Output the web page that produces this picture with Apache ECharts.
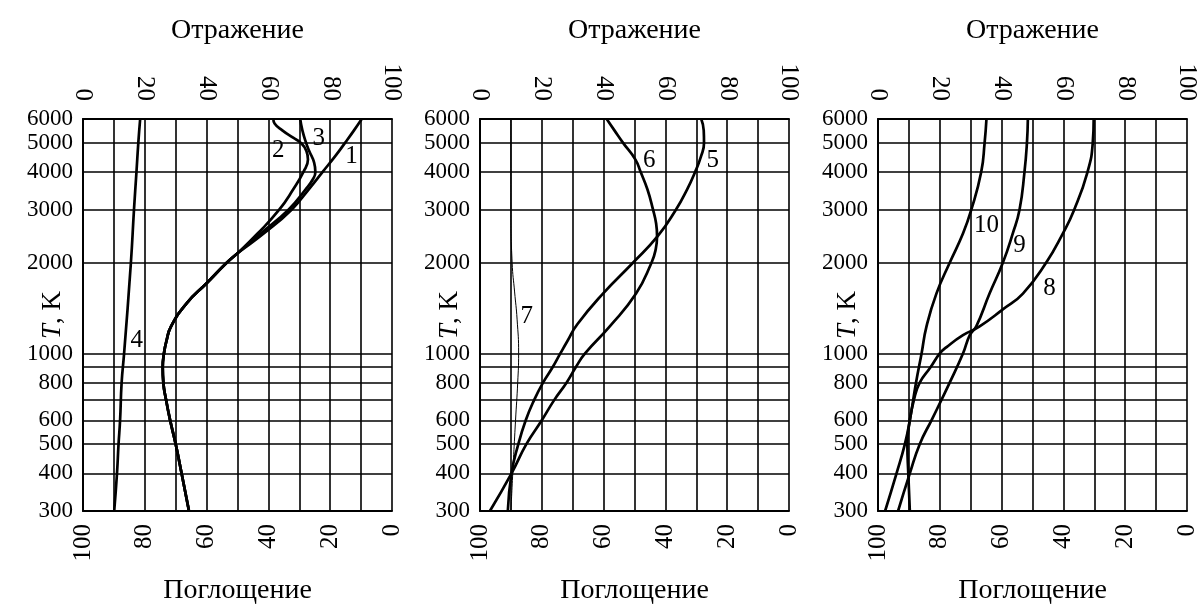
<!DOCTYPE html>
<html><head><meta charset="utf-8">
<script src="https://cdn.jsdelivr.net/npm/echarts@6/dist/echarts.min.js"></script>
<style>html,body{margin:0;padding:0;background:#fff}#c{width:1201px;height:605px}</style>
</head><body><div id="c"></div>
<script>
// ---- axis ticks / labels ----
const yGridValues = [300,400,500,600,700,800,900,1000,2000,3000,4000,5000,6000];
const yLabelValues = [300,400,500,600,800,1000,2000,3000,4000,5000,6000];
const xLabelValues = [0,20,40,60,80,100];
const topTitle = 'Отражение';
const bottomTitle = 'Поглощение';

// ---- panel 1 (reflection %, temperature K) ----
const lowT = [300,400,500,600,700,800,900,1000,1100,1230,1470,1710,2000,2150];
const lowR = [34.3,31.9,30,28.2,26.9,26,25.8,26.2,27,28.5,33.6,40,46.5,50];
const c1T = [2500,3000,3500,4000,4500,5000,5500,6000];
const c1R = [58.5,67.5,73,77.5,81.5,84.8,87.7,90.2];
const c2T = [2500,3000,3500,4000,4400,4700,5000,5200,5500,5800,6000];
const c2R = [56.5,63.5,68,71.3,72.8,72.3,70.5,68,64.5,62,61.6];
const c3T = [2500,3000,3500,3800,4000,4300,4700,5000,5500,6000];
const c3R = [57.5,66.5,72,74.5,75.2,74.8,73.2,72.2,71,70.3];
const c4T = [300,400,500,600,800,1000,2000,3000,4000,5000,6000];
const c4R = [10.1,11,11.5,12,12.5,13.3,15.5,16.5,17.3,17.9,18.5];

// ---- panel 2 ----
const c5T = [300,400,500,600,700,800,900,1000,1100,1250,1580,2000,2450,3000,3500,4000,4500,5000,5500,6000];
const c5R = [9,10.2,12.4,14.8,17.5,20.4,23.5,26,28.3,31.5,39.8,49.5,57.5,63.4,67,69.6,71.5,72.5,72.4,71.6];
const c6T = [300,400,500,600,700,800,900,1000,1230,1580,2000,2200,2450,2700,3000,3500,4000,4400,5000,5500,6000];
const c6R = [3.2,10.2,15,20,24,28,31,34,42,50.5,55.5,56.8,57.3,57,56,54.2,52,50.3,46.3,43.5,41];
const c7T = [300,400,600,800,1000,1300,1600,2000,3000,6000];
const c7R = [10,10.6,11.5,12.2,12.5,12,11.2,10.4,10,10];

// ---- panel 3 ----
const c8T = [300,400,500,600,700,800,900,1000,1050,1150,1230,1400,1580,2000,2500,3000,4000,5000,6000];
const c8R = [10.3,9.8,9.5,10.3,11.6,13.5,17,20,22.2,27.5,32.9,40.4,46.9,54.4,59.8,63.5,67.8,69.5,69.8];
const c9T = [300,400,500,600,700,800,1000,1150,1230,1580,2000,2500,3000,4000,5000,6000];
const c9R = [6.5,10.3,13.5,17.3,20.5,23.2,27.5,29.7,31.8,36.1,40.4,43.6,45.8,47.4,48.2,48.5];
const c10T = [300,400,500,600,800,1000,1230,1580,2000,2500,3000,4000,5000,6000];
const c10R = [2.3,6,8.7,10.3,12.3,14.1,15.7,18.9,23.2,27.5,30.2,33.4,34.5,35.1];

// ---- curve labels (text, reflection, temperature) ----
const lab1Text = ['1','2','3','4'];
const lab1R = [86.9,63.2,76.3,17.4];
const lab1T = [4500,4734,5179,1108];
const lab2Text = ['5','6','7'];
const lab2R = [75.3,54.8,15.1];
const lab2T = [4388,4388,1325];
const lab3Text = ['8','9','10'];
const lab3R = [55.5,45.8,35.1];
const lab3T = [1643,2284,2670];

const FONT = "'Liberation Serif','DejaVu Serif',serif";
const zip = (R, T) => R.map((r, i) => [r, T[i]]);

const panels = [
  { left: 83, curves: [
      { d: zip(lowR.concat(c1R), lowT.concat(c1T)) },
      { d: zip(lowR.concat(c2R), lowT.concat(c2T)) },
      { d: zip(lowR.concat(c3R), lowT.concat(c3T)) },
      { d: zip(c4R, c4T) }],
    labels: lab1Text.map((t, i) => ({ name: t, value: [lab1R[i], lab1T[i]] })) },
  { left: 480, curves: [
      { d: zip(c5R, c5T) },
      { d: zip(c6R, c6T) },
      { d: zip(c7R, c7T), thin: true }],
    labels: lab2Text.map((t, i) => ({ name: t, value: [lab2R[i], lab2T[i]] })) },
  { left: 878, curves: [
      { d: zip(c8R, c8T) },
      { d: zip(c9R, c9T) },
      { d: zip(c10R, c10T) }],
    labels: lab3Text.map((t, i) => ({ name: t, value: [lab3R[i], lab3T[i]] })) }
];

const grid = [], xAxis = [], yAxis = [], series = [];
const black = '#000';
panels.forEach((p, k) => {
  grid.push({ left: p.left, top: 119, width: 309, height: 392, outerBoundsMode: 'none', containLabel: false });
  xAxis.push({
    gridIndex: k, type: 'value', position: 'top', min: 0, max: 100, interval: 10,
    name: topTitle, nameLocation: 'middle', nameGap: 74, nameMoveOverlap: false,
    nameTextStyle: { fontFamily: FONT, fontSize: 28, color: black },
    axisLine: { show: true, lineStyle: { color: black, width: 2 } },
    axisTick: { show: false },
    splitLine: { show: true, lineStyle: { color: black, width: 1.6 } },
    axisLabel: { customValues: xLabelValues, rotate: 90, margin: 18, fontFamily: FONT, fontSize: 25, color: black,
      formatter: v => String(v) }
  });
  xAxis.push({
    gridIndex: k, type: 'value', position: 'bottom', min: 0, max: 100, interval: 20, inverse: true,
    name: bottomTitle, nameLocation: 'middle', nameGap: 66, nameMoveOverlap: false,
    nameTextStyle: { fontFamily: FONT, fontSize: 28, color: black },
    axisLine: { show: true, lineStyle: { color: black, width: 2 } },
    axisTick: { show: false },
    splitLine: { show: false },
    axisLabel: { customValues: xLabelValues, rotate: 90, margin: 13, fontFamily: FONT, fontSize: 25, color: black,
      formatter: v => String(v) }
  });
  yAxis.push({
    gridIndex: k, type: 'log', logBase: 10, min: 300, max: 6000,
    name: '{i|T}, K', nameLocation: 'middle', nameGap: 17, nameMoveOverlap: false,
    nameTextStyle: { fontFamily: FONT, fontSize: 27, color: black,
      rich: { i: { fontFamily: FONT, fontSize: 27, fontStyle: 'italic', color: black } } },
    axisLine: { show: true, lineStyle: { color: black, width: 2 } },
    axisTick: { show: false, customValues: yGridValues },
    splitLine: { show: true, lineStyle: { color: black, width: 1.6 } },
    axisLabel: { customValues: yLabelValues, margin: 10, fontFamily: FONT, fontSize: 23, color: black,
      formatter: v => String(Math.round(v)) }
  });
  p.curves.forEach(c => {
    series.push({
      type: 'line', xAxisIndex: 2 * k, yAxisIndex: k, data: c.d,
      showSymbol: false, smooth: 0.5, silent: true,
      lineStyle: { color: black, width: c.thin ? 1 : 2.7 }, z: 5
    });
  });
  series.push({
    type: 'scatter', xAxisIndex: 2 * k, yAxisIndex: k, data: p.labels,
    symbolSize: 0, itemStyle: { color: black }, silent: true, z: 6,
    label: { show: true, position: 'inside', formatter: '{b}', fontFamily: FONT, fontSize: 25,
      color: black, textBorderWidth: 0, opacity: 1 }
  });
});

const chart = echarts.init(document.getElementById('c'), null, { renderer: 'canvas' });
chart.setOption({ backgroundColor: '#fff', animation: false, grid, xAxis, yAxis, series });
</script>
</body></html>
